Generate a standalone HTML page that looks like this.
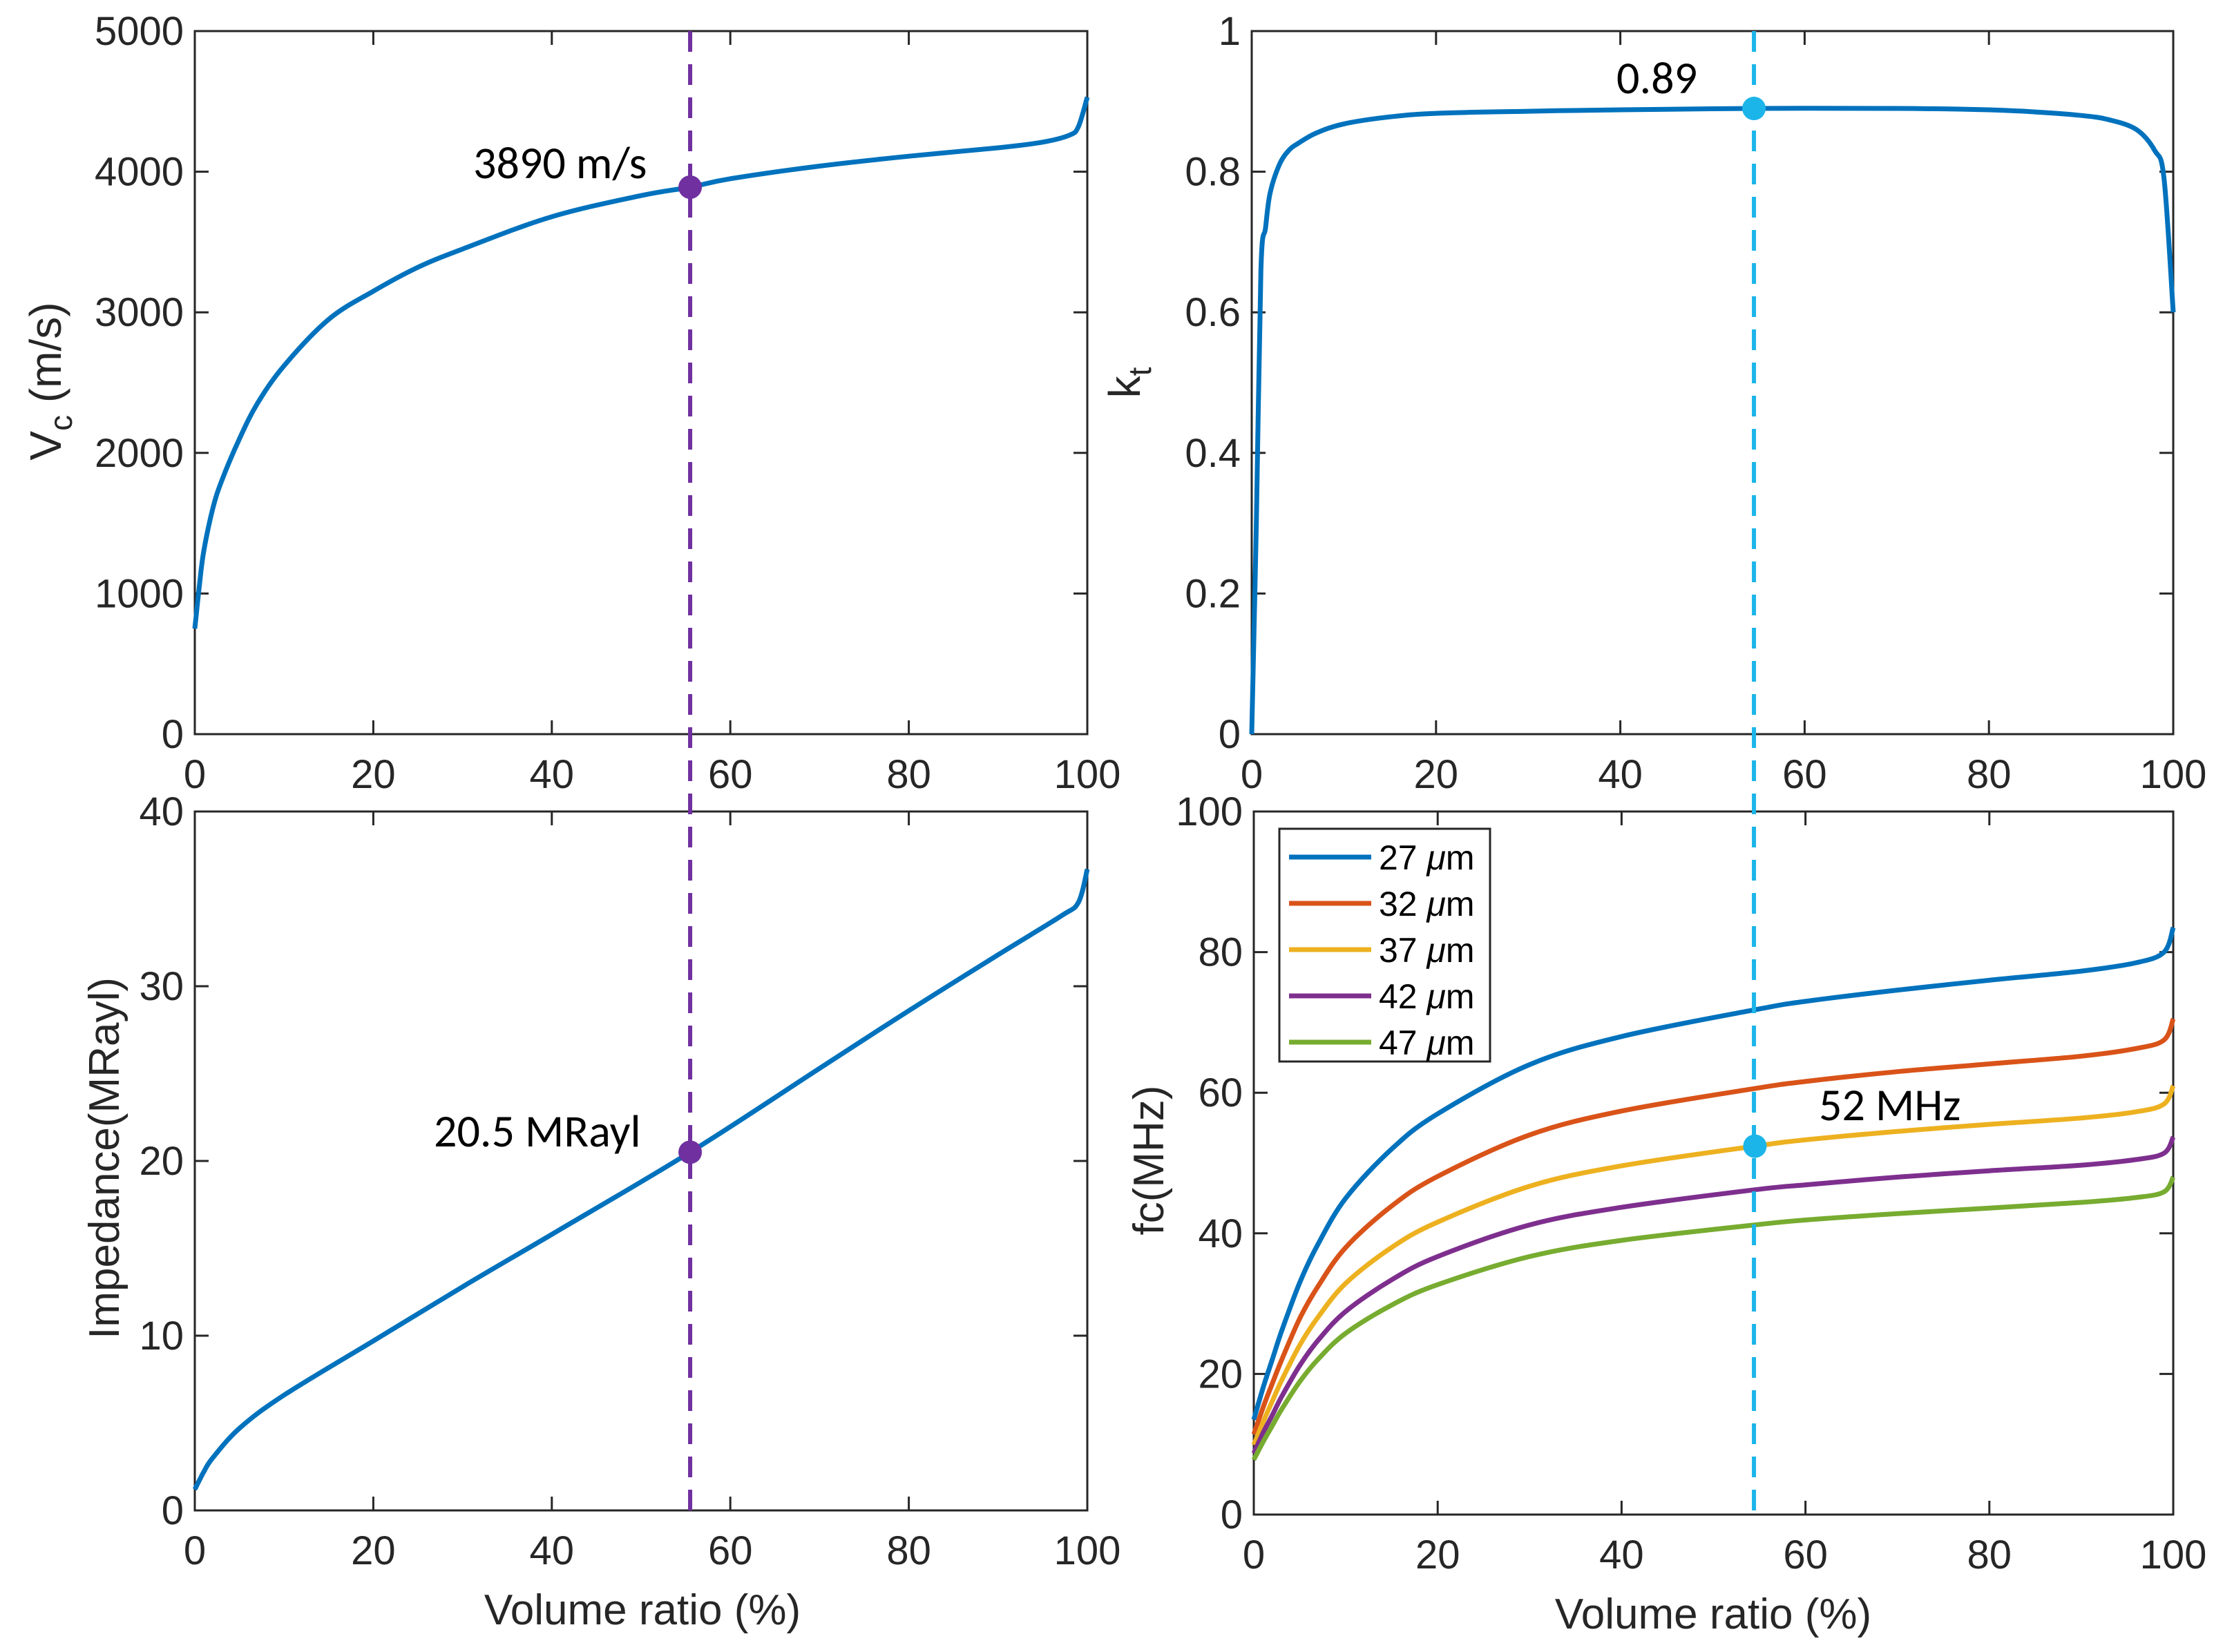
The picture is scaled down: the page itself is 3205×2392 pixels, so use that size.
<!DOCTYPE html>
<html><head><meta charset="utf-8"><style>
html,body{margin:0;padding:0;background:#fff;}
svg{display:block;font-family:"Liberation Sans",sans-serif;}
</style></head><body>
<svg id="fig" width="3205" height="2392" viewBox="0 0 3205 2392" xmlns="http://www.w3.org/2000/svg"></svg>
<script>
// ---- data ----
const vcX = [0,0.5,1,2,3,5,7,10,15,20,25,30,40,50,55.5,60,70,80,90,95,98,99,100];
const vcY = [750,1050,1300,1600,1800,2100,2350,2620,2950,3150,3320,3450,3680,3830,3890,3950,4040,4110,4170,4210,4260,4320,4530];
const ktX = [0,0.5,1,1.5,2,3,4,5,7,10,15,20,30,40,55,70,80,85,90,93,96,98,99,100];
const ktY = [0,0.3,0.66,0.72,0.77,0.81,0.83,0.84,0.855,0.868,0.878,0.883,0.886,0.888,0.89,0.89,0.888,0.885,0.88,0.874,0.86,0.83,0.79,0.6];
const zX = [0,1,2,5,10,20,30,40,55.5,70,80,90,97,99,100];
const zY = [1.2,2.2,3,4.7,6.6,9.7,12.8,15.8,20.5,25.3,28.6,31.8,34,34.8,36.7];
const fcX = [0,1,2,3,5,7,10,15,20,30,40,54.5,60,70,80,90,96,99,100];
const fc27 = [13.5,18,22,26,33,38.5,45,52,57,64,68,71.8,73,74.6,76,77.3,78.5,80,83.5];
const fc32 = [11.4,15.2,18.6,21.9,27.9,32.5,38,43.9,48.1,54,57.4,60.6,61.6,63,64.1,65.2,66.3,67.5,70.5];
const fc37 = [9.9,13.1,16.1,19,24.1,28.1,32.9,38,41.6,46.7,49.6,52.4,53.3,54.5,55.5,56.4,57.3,58.4,61];
const fc42 = [8.7,11.6,14.1,16.7,21.2,24.8,28.9,33.4,36.7,41.2,43.7,46.2,46.9,48,48.9,49.7,50.5,51.4,53.7];
const fc47 = [7.8,10.3,12.6,14.9,18.9,22.1,25.8,29.8,32.7,36.7,39,41.2,41.9,42.8,43.6,44.4,45.1,45.9,48];
const fcLabels = ["27 \u03BCm","32 \u03BCm","37 \u03BCm","42 \u03BCm","47 \u03BCm"];
const xTicks = [0,20,40,60,80,100];
const vcTicks = [0,1000,2000,3000,4000,5000];
const ktTicks = [0,0.2,0.4,0.6,0.8,1];
const zTicks = [0,10,20,30,40];
const fcTicks = [0,20,40,60,80,100];
const markLeft = 55.5, markRight = 54.5;

const NS="http://www.w3.org/2000/svg";
const svg=document.getElementById('fig');
function mk(tag,attrs,parent){const e=document.createElementNS(NS,tag);for(const k in attrs)e.setAttribute(k,attrs[k]);(parent||svg).appendChild(e);return e;}
const AX="#262626";
function makeAxes(name,x0,x1,y0,y1,ymin,ymax,yticks){
  const g=mk('g',{});
  
  
  const sx=v=>x0+(v-0)/100*(x1-x0);
  const sy=v=>y1-(v-ymin)/(ymax-ymin)*(y1-y0);
  const r=mk('rect',{x:x0,y:y0,width:x1-x0,height:y1-y0,fill:'none',stroke:AX,'stroke-width':3},g);
  
  xTicks.forEach(t=>{const X=sx(t);
    mk('line',{x1:X,x2:X,y1:y1,y2:y1-20,stroke:AX,'stroke-width':3},g);
    mk('line',{x1:X,x2:X,y1:y0,y2:y0+20,stroke:AX,'stroke-width':3},g);
    const tx=mk('text',{x:X,y:y1+78,'font-size':58,'text-anchor':'middle',fill:AX},g);tx.textContent=t;
    
  });
  yticks.forEach(t=>{const Y=sy(t);
    mk('line',{x1:x0,x2:x0+20,y1:Y,y2:Y,stroke:AX,'stroke-width':3},g);
    mk('line',{x1:x1,x2:x1-20,y1:Y,y2:Y,stroke:AX,'stroke-width':3},g);
    const tx=mk('text',{x:x0-16,y:Y+20,'font-size':58,'text-anchor':'end',fill:AX},g);tx.textContent=t;
    
  });
  return {g,sx,sy};
}
function curve(ax,xs,ys,color,name){
  const P=xs.map((x,i)=>[ax.sx(x),ax.sy(ys[i])]);
  let d='M'+P[0][0].toFixed(1)+','+P[0][1].toFixed(1);
  for(let i=0;i<P.length-1;i++){
    const p0=P[Math.max(0,i-1)],p1=P[i],p2=P[i+1],p3=P[Math.min(P.length-1,i+2)];
    const t=0.5/3;
    const c1=[p1[0]+(p2[0]-p0[0])*t,p1[1]+(p2[1]-p0[1])*t];
    const c2=[p2[0]-(p3[0]-p1[0])*t,p2[1]-(p3[1]-p1[1])*t];
    d+=' C'+c1.map(v=>v.toFixed(1)).join(',')+' '+c2.map(v=>v.toFixed(1)).join(',')+' '+p2.map(v=>v.toFixed(1)).join(',');
  }
  const p=mk('path',{d:d,fill:'none',stroke:color,'stroke-width':7,'stroke-linejoin':'round'},ax.g);
  
}
function interp(xs,ys,x){for(let i=1;i<xs.length;i++){if(x<=xs[i]){const t=(x-xs[i-1])/(xs[i]-xs[i-1]);return ys[i-1]+t*(ys[i]-ys[i-1]);}}return ys[ys.length-1];}
function label(txt,x,y,size,name,rot,anchor,fam){
  const t=mk('text',{x:x,y:y,'font-size':size,'text-anchor':anchor||'middle',fill:fam?'#000':AX});
  if(fam)t.setAttribute('font-family','Carlito, "Liberation Sans", sans-serif');
  if(rot)t.setAttribute('transform','rotate(-90 '+x+' '+y+')');
  t.innerHTML=txt;
  
  return t;
}
const BLUE="#0072BD";
const A=makeAxes('vc-panel',282,1574,45,1063,0,5000,vcTicks);
const B=makeAxes('kt-panel',1812,3146,45,1063,0,1,ktTicks);
const C=makeAxes('impedance-panel',282,1574,1175,2187,0,40,zTicks);
const D=makeAxes('fc-panel',1815,3146,1175,2193,0,100,fcTicks);
curve(A,vcX,vcY,BLUE,'vc-curve');
curve(B,ktX,ktY,BLUE,'kt-curve');
curve(C,zX,zY,BLUE,'impedance-curve');
const cols=[BLUE,"#D95319","#EDB120","#7E2F8E","#77AC30"];
const fcs=[fc27,fc32,fc37,fc42,fc47];
fcs.forEach((s,i)=>curve(D,fcX,s,cols[i],'fc-curve-'+fcLabels[i].split(' ')[0]+'um'));
const dl=mk('line',{x1:A.sx(markLeft),x2:A.sx(markLeft),y1:45,y2:2187,stroke:'#7030A0','stroke-width':6,'stroke-dasharray':'30,18'});

const dr=mk('line',{x1:B.sx(markRight),x2:B.sx(markRight),y1:45,y2:2193,stroke:'#1CB5E9','stroke-width':6,'stroke-dasharray':'30,18'});

function dot(ax,x,y,c,name){const e=mk('circle',{cx:ax.sx(x),cy:ax.sy(y),r:17,fill:c});}
dot(A,markLeft,interp(vcX,vcY,markLeft),'#7030A0','vc-marker-dot');
dot(C,markLeft,interp(zX,zY,markLeft),'#7030A0','impedance-marker-dot');
dot(B,markRight,interp(ktX,ktY,markRight),'#1CB5E9','kt-marker-dot');
dot(D,markRight,interp(fcX,fc37,markRight),'#1CB5E9','fc-marker-dot');
label('3890 m/s',685,258,66,'vc-annotation',false,'start',1);
label('0.89',2340,135,66,'kt-annotation',false,'start',1);
label('20.5 MRayl',628,1660,66,'impedance-annotation',false,'start',1);
label('52 MHz',2633,1622,66,'fc-annotation',false,'start',1);
label('V<tspan font-size="46" dy="16">c</tspan><tspan dy="-16"> (m/s)</tspan>',88,552,64,'y-axis-title-vc',true);
label('k<tspan font-size="46" dy="16">t</tspan>',1650,554,64,'y-axis-title-kt',true);
label('Impedance(MRayl)',172,1677,62,'y-axis-title-impedance',true);
label('fc(MHz)',1684,1680,62,'y-axis-title-fc',true);
label('Volume ratio (%)',930,2352,62,'x-axis-title-left');
label('Volume ratio (%)',2480,2358,62,'x-axis-title-right');
const lg=mk('g',{});

mk('rect',{x:1852,y:1200,width:305,height:337,fill:'#fff',stroke:AX,'stroke-width':3},lg);
fcLabels.forEach((t,i)=>{const y=1241+i*67;
  const e=mk('g',{},lg);
  
  mk('line',{x1:1866,x2:1985,y1:y,y2:y,stroke:cols[i],'stroke-width':7},e);
  const tx=mk('text',{x:1996,y:y+18,'font-size':50,fill:'#000'},e);
  tx.innerHTML=t.split(' ')[0]+' <tspan font-style="italic">\u03BC</tspan>m';
});
</script>
</body></html>
